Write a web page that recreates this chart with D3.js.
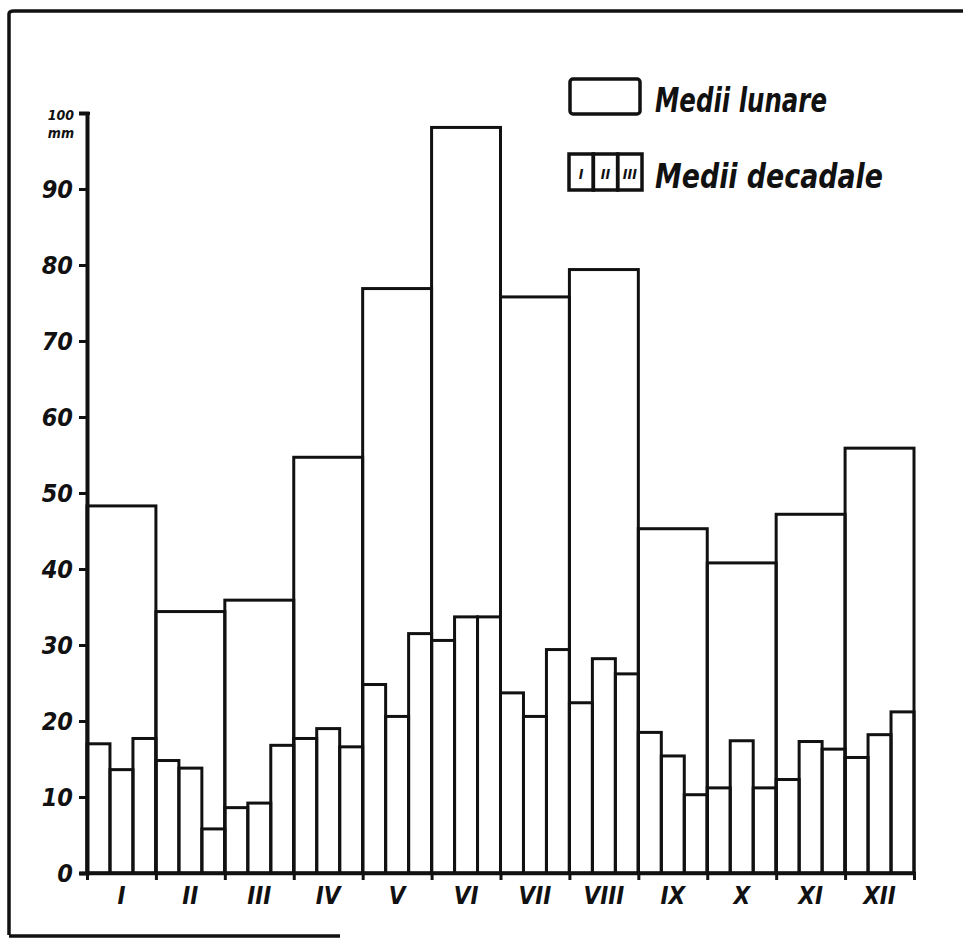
<!DOCTYPE html>
<html>
<head>
<meta charset="utf-8">
<script src="https://cdn.jsdelivr.net/npm/d3@7"></script>
<style>
  body { margin: 0; background: #fff; }
  svg { display: block; }
  text { font-family: "Liberation Sans Narrow", "DejaVu Sans Condensed", "Liberation Sans", sans-serif; font-style: italic; font-weight: bold; fill: #111; }
</style>
</head>
<body>
<div id="chart"></div>
<script>
// months (roman numerals)
var months = ['I', 'II', 'III', 'IV', 'V', 'VI', 'VII', 'VIII', 'IX', 'X', 'XI', 'XII'];

// monthly means, mm
var monthly = [48.3, 34.4, 35.9, 54.7, 76.9, 98.1, 75.8, 79.4, 45.3, 40.8, 47.2, 55.9];

// decade means (I, II, III decade of each month), mm
var decade1 = [17.0, 14.8, 8.6, 17.7, 24.8, 30.6, 23.7, 22.4, 18.5, 11.2, 12.3, 15.2];
var decade2 = [13.6, 13.8, 9.2, 19.0, 20.6, 33.7, 20.6, 28.2, 15.4, 17.4, 17.3, 18.2];
var decade3 = [17.7, 5.8, 16.8, 16.6, 31.5, 33.7, 29.4, 26.2, 10.3, 11.2, 16.3, 21.2];

var yTicks = [0, 10, 20, 30, 40, 50, 60, 70, 80, 90];
var decades = ['I', 'II', 'III'];

var W = 963, H = 944;
var svg = d3.select('#chart').append('svg')
  .attr('width', W)
  .attr('height', H);

// frame (top, left, partial bottom like the scan)
svg.append('path')
  .attr('d', 'M 9 935 L 9 14 Q 9 11 14 11 L 963 11 M 9 936 L 340 936')
  .attr('fill', 'none')
  .attr('stroke', '#111')
  .attr('stroke-width', 3.5);

var x = d3.scaleBand().domain(months).range([87, 914]).padding(0);
var xb = d3.scaleLinear().domain([0, 12]).range([87, 914]);
var xd = d3.scaleBand().domain(decades).range([0, x.bandwidth()]).padding(0);
var y = d3.scaleLinear().domain([0, 100]).range([873, 113]);

// monthly bars
svg.append('g').selectAll('rect')
  .data(monthly)
  .enter().append('rect')
  .attr('x', function(d, i) { return x(months[i]); })
  .attr('y', function(d) { return y(d); })
  .attr('width', x.bandwidth())
  .attr('height', function(d) { return y(0) - y(d); })
  .attr('fill', 'none')
  .attr('stroke', '#111')
  .attr('stroke-width', 3);

// decade bars
var rows = [];
months.forEach(function(m, i) {
  [decade1[i], decade2[i], decade3[i]].forEach(function(v, j) {
    rows.push({ month: m, dec: decades[j], value: v });
  });
});

svg.append('g').selectAll('rect')
  .data(rows)
  .enter().append('rect')
  .attr('x', function(d) { return x(d.month) + xd(d.dec); })
  .attr('y', function(d) { return y(d.value); })
  .attr('width', xd.bandwidth())
  .attr('height', function(d) { return y(0) - y(d.value); })
  .attr('fill', 'none')
  .attr('stroke', '#111')
  .attr('stroke-width', 3);

// y axis
var yAxis = svg.append('g')
  .attr('transform', 'translate(87,0)')
  .call(d3.axisLeft(y).tickValues(yTicks.concat([100])).tickSize(8).tickPadding(6)
    .tickFormat(function(d) { return d === 100 ? '' : d; }));
yAxis.select('.domain').attr('stroke', '#111').attr('stroke-width', 4);
yAxis.selectAll('.tick line').attr('stroke', '#111').attr('stroke-width', 3);
yAxis.selectAll('.tick line').filter(function(d) { return d === 100; })
  .attr('x1', 3).attr('x2', -3);
yAxis.selectAll('.tick text')
  .style('font-size', '25px')
  .attr('font-family', null)
  .attr('font-size', null);

svg.append('text').attr('x', 74).attr('y', 120).attr('text-anchor', 'end')
  .style('font-size', '14px').text('100');
svg.append('text').attr('x', 74).attr('y', 138).attr('text-anchor', 'end')
  .style('font-size', '14px').text('mm');

// x axis: boundaries with small ticks
var xAxis = svg.append('g')
  .attr('transform', 'translate(0,' + y(0) + ')')
  .call(d3.axisBottom(xb).tickValues(d3.range(13)).tickSize(7).tickFormat(''));
xAxis.select('.domain').attr('stroke', '#111').attr('stroke-width', 3.5)
  .attr('d', 'M80,0.5H916');
xAxis.selectAll('.tick line').attr('stroke', '#111').attr('stroke-width', 3);

var xLabels = svg.append('g')
  .attr('transform', 'translate(0,' + (y(0) + 8) + ')')
  .call(d3.axisBottom(x).tickSize(0).tickPadding(6));
xLabels.select('.domain').remove();
xLabels.selectAll('.tick text')
  .style('font-size', '24px')
  .attr('font-family', null)
  .attr('font-size', null);

// legend
var legend = svg.append('g');
legend.append('rect')
  .attr('x', 570).attr('y', 79).attr('width', 70).attr('height', 35).attr('rx', 3)
  .attr('fill', 'none').attr('stroke', '#111').attr('stroke-width', 3.5);
legend.append('text').attr('x', 655).attr('y', 112)
  .attr('textLength', 172).attr('lengthAdjust', 'spacingAndGlyphs')
  .style('font-size', '34px').text('Medii lunare');

var lx = d3.scaleBand().domain(decades).range([569, 642]);
legend.selectAll('.lg').data(decades).enter().append('rect')
  .attr('x', function(d) { return lx(d); }).attr('y', 154)
  .attr('width', lx.bandwidth()).attr('height', 36)
  .attr('fill', 'none').attr('stroke', '#111').attr('stroke-width', 3.5);
legend.selectAll('.lt').data(decades).enter().append('text')
  .attr('x', function(d) { return lx(d) + lx.bandwidth() / 2; }).attr('y', 179)
  .attr('text-anchor', 'middle').style('font-size', '14px')
  .text(function(d) { return d; });
legend.append('text').attr('x', 655).attr('y', 188)
  .attr('textLength', 228).attr('lengthAdjust', 'spacingAndGlyphs')
  .style('font-size', '34px').text('Medii decadale');
</script>
</body>
</html>
